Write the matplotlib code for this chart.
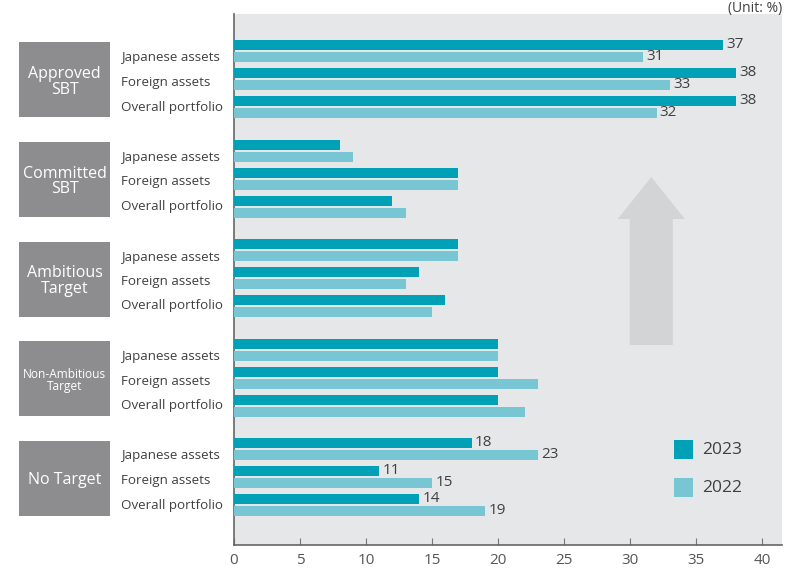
import numpy as np
import matplotlib.pyplot as plt
from matplotlib.patches import Polygon, Rectangle

plt.rcParams['font.family'] = ['Open Sans', 'DejaVu Sans']

# --- data (unit: %) ---
groups = ["Approved\nSBT", "Committed\nSBT", "Ambitious\nTarget", "Non-Ambitious\nTarget", "No Target"]
items = ["Japanese assets", "Foreign assets", "Overall portfolio"]
v2023 = [[37, 38, 38], [8, 17, 12], [17, 14, 16], [20, 20, 20], [18, 11, 14]]
v2022 = [[31, 33, 32], [9, 17, 13], [17, 13, 15], [20, 23, 22], [23, 15, 19]]
labelled = [True, False, False, False, True]

C23 = "#00a0b6"
C22 = "#78c5d4"
BG = "#e6e7e9"
BOX = "#8d8d90"
TXT = "#404040"

# vertical layout in pixel-like units
GROUP_STEP = 99.5
ITEM_STEP = 28
PAIR_OFF = 12
BAR_H = 10

fig = plt.figure(figsize=(7.86, 5.71), dpi=100)
ax = fig.add_axes([234 / 786, 1 - 545 / 571, 548 / 786, 531 / 571])
ax.set_facecolor(BG)

for g in range(len(groups)):
    for i in range(len(items)):
        y0 = g * GROUP_STEP + i * ITEM_STEP
        ax.barh(y0, v2023[g][i], height=BAR_H, color=C23, zorder=3)
        ax.barh(y0 + PAIR_OFF, v2022[g][i], height=BAR_H, color=C22, zorder=3)
        if labelled[g]:
            ax.text(v2023[g][i] + 0.25, y0, str(v2023[g][i]), va="center", ha="left",
                    fontsize=11, color=TXT)
            ax.text(v2022[g][i] + 0.25, y0 + PAIR_OFF, str(v2022[g][i]), va="center", ha="left",
                    fontsize=11, color=TXT)

ax.set_xlim(0, 41.5)
ax.set_ylim(500, -31)
ax.set_yticks([])
ax.set_xticks(np.arange(0, 41, 5))
ax.tick_params(axis="x", direction="in", length=5, color="#777777", labelcolor="#555555",
               labelsize=11, pad=6)
for s in ["top", "right"]:
    ax.spines[s].set_visible(False)
ax.spines["left"].set_color("#666666")
ax.spines["bottom"].set_color("#666666")
ax.spines["left"].set_linewidth(1.2)
ax.spines["bottom"].set_linewidth(1.2)

# upward arrow in the background
ax_x = 31.6
arrow = Polygon([(ax_x - 1.63, 300), (ax_x - 1.63, 174), (ax_x - 2.54, 174), (ax_x, 132),
                 (ax_x + 2.54, 174), (ax_x + 1.63, 174), (ax_x + 1.63, 300)],
                closed=True, facecolor="#d3d4d6", edgecolor="none", zorder=1)
ax.add_patch(arrow)

# legend
leg_y = [(440 + 459) / 2, (478 + 497) / 2]
for k, (lab, col) in enumerate([("2023", C23), ("2022", C22)]):
    yc = leg_y[k]
    fig.patches.append(Rectangle((674 / 786, 1 - (yc + 9.5) / 571), 19 / 786, 19 / 571,
                                 transform=fig.transFigure, facecolor=col, edgecolor="none"))
    fig.text(702 / 786, 1 - yc / 571, lab, va="center", ha="left", fontsize=12.5, color=TXT)

# group boxes and row labels on the left
for g, name in enumerate(groups):
    top = 42.5 + g * GROUP_STEP
    fig.patches.append(Rectangle((19 / 786, 1 - (top + 75) / 571), 91 / 786, 75 / 571,
                                 transform=fig.transFigure, facecolor=BOX, edgecolor="none"))
    small = name.startswith("Non")
    fig.text(64.5 / 786, 1 - (top + 39.5) / 571, name, ha="center", va="center",
             color="white", fontsize=8.6 if small else 11.5, linespacing=0.95)
    for i, it in enumerate(items):
        yc = 58 + g * GROUP_STEP + i * 24.5
        fig.text(121 / 786, 1 - yc / 571, it, ha="left", va="center", fontsize=9.6, color=TXT)

fig.text(782 / 786, 1 - 1 / 571, "(Unit: %)", ha="right", va="top", fontsize=10, color=TXT)

fig.savefig("out.png", dpi=100, facecolor="white")
